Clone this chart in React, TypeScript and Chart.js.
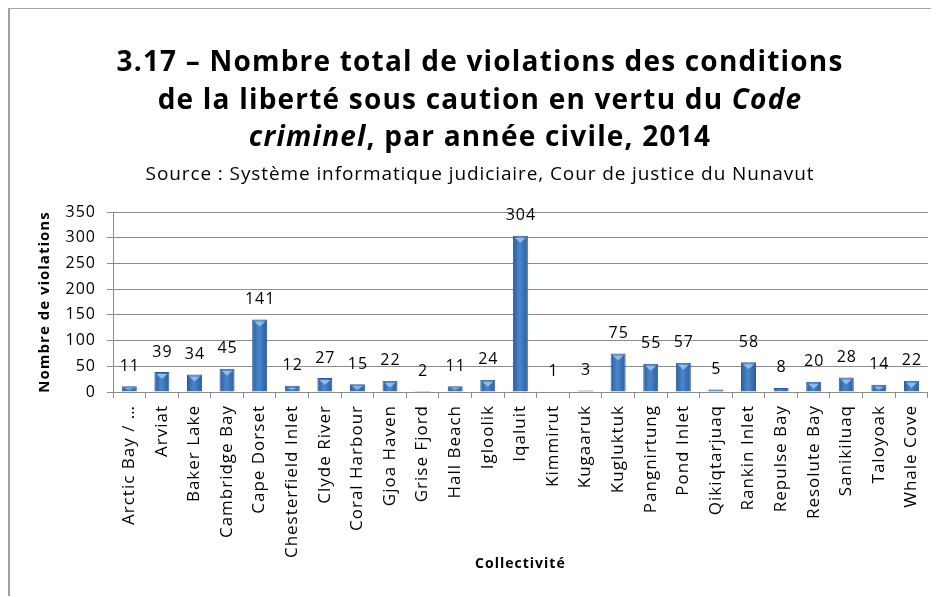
import React, { useEffect, useRef } from 'react';
import { Chart, registerables } from 'chart.js';

Chart.register(...registerables);

const categories = [
  'Arctic Bay / …', 'Arviat', 'Baker Lake', 'Cambridge Bay', 'Cape Dorset',
  'Chesterfield Inlet', 'Clyde River', 'Coral Harbour', 'Gjoa Haven', 'Grise Fjord',
  'Hall Beach', 'Igloolik', 'Iqaluit', 'Kimmirut', 'Kugaaruk', 'Kugluktuk',
  'Pangnirtung', 'Pond Inlet', 'Qikiqtarjuaq', 'Rankin Inlet', 'Repulse Bay',
  'Resolute Bay', 'Sanikiluaq', 'Taloyoak', 'Whale Cove',
];
const violations = [11, 39, 34, 45, 141, 12, 27, 15, 22, 2, 11, 24, 304, 1, 3, 75, 55, 57, 5, 58, 8, 20, 28, 14, 22];
const yMin = 0;
const yMax = 350;
const yStep = 50;
const sourceText = 'Source : Système informatique judiciaire, Cour de justice du Nunavut';
const yTitle = 'Nombre de violations';
const xTitle = 'Collectivité';

const FONT = '"Open Sans", Lato, sans-serif';

const spacingPlugin = {
  id: 'letterSpacing',
  beforeDraw(chart: any) {
    chart.ctx.letterSpacing = '1px';
  },
};

const labelPlugin = {
  id: 'valueLabels',
  afterDatasetsDraw(chart: any) {
    const ctx = chart.ctx;
    const meta = chart.getDatasetMeta(0);
    ctx.save();
    meta.data.forEach((bar: any, i: number) => {
      const v = chart.data.datasets[0].data[i];
      const h = bar.base - bar.y;
      const w = bar.width;
      if (h > 5) {
        ctx.fillStyle = 'rgba(150,195,240,0.9)';
        ctx.beginPath();
        ctx.moveTo(bar.x - w / 2 + 2, bar.y + 2);
        ctx.lineTo(bar.x + w / 2 - 2, bar.y + 2);
        ctx.lineTo(bar.x, bar.y + Math.min(7, h - 2));
        ctx.closePath();
        ctx.fill();
      }
      ctx.fillStyle = '#000';
      ctx.font = `16px ${FONT}`;
      ctx.textAlign = 'center';
      ctx.textBaseline = 'middle';
      ctx.fillText(String(v), bar.x + 0.5, bar.y - 20);
    });
    ctx.restore();
  },
};

export default function App() {
  const ref = useRef<HTMLCanvasElement>(null);
  useEffect(() => {
    if (!ref.current) return;
    const chart = new Chart(ref.current, {
      type: 'bar',
      data: {
        labels: categories,
        datasets: [
          {
            data: violations,
            backgroundColor: (c: any) => {
              const ch = c.chart;
              const xs = ch.scales && ch.scales.x;
              if (!xs || c.type !== 'data' || !ch.chartArea) return '#3a72b8';
              const cx = xs.getPixelForValue(c.dataIndex);
              const g = ch.ctx.createLinearGradient(cx - 8, 0, cx + 8, 0);
              g.addColorStop(0, '#2a5a98');
              g.addColorStop(0.45, '#4a86cc');
              g.addColorStop(1, '#2a5a98');
              return g;
            },
            borderColor: '#2b5b99',
            borderWidth: 1,
            barPercentage: 0.46,
            categoryPercentage: 1,
          },
        ],
      },
      options: {
        animation: false,
        responsive: false,
        layout: { padding: { left: 24, right: 7, top: 205, bottom: 20 } },
        plugins: { legend: { display: false }, tooltip: { enabled: false } },
        scales: {
          x: {
            afterFit: (s: any) => { s.height = 184; },
            grid: { drawOnChartArea: false, color: '#8c8c8c', tickLength: 6, offset: true },
            border: { color: '#8c8c8c' },
            ticks: {
              minRotation: 90, maxRotation: 90, autoSkip: false, padding: 7,
              color: '#000', font: { family: FONT, size: 17 },
            },
            title: { display: true, text: xTitle, color: '#000', font: { family: FONT, size: 14, weight: 'bold' } },
          },
          y: {
            min: yMin, max: yMax,
            afterFit: (s: any) => { s.width = 81; },
            grid: { color: '#8c8c8c', tickLength: 6 },
            border: { color: '#8c8c8c' },
            ticks: { stepSize: yStep, padding: 11, color: '#000', font: { family: FONT, size: 16 } },
            title: { display: true, text: yTitle, color: '#000', font: { family: FONT, size: 15, weight: 'bold' } },
          },
        },
      },
      plugins: [spacingPlugin, labelPlugin],
    });
    return () => chart.destroy();
  }, []);

  return (
    <div style={{ position: 'relative', width: 931, height: 589, marginTop: -1, overflow: 'hidden', fontFamily: FONT }}>
      <canvas ref={ref} width={931} height={589} style={{ position: 'absolute', left: 0, top: 0 }} />
      <div style={{ position: 'absolute', left: 0, top: 0, width: 2, height: 589, background: '#a0a0a0' }} />
      <div style={{ position: 'absolute', left: 0, top: 0, width: 931, height: 2, background: '#a5a5a5' }} />
      <div
        style={{
          position: 'absolute', left: 22, top: 35, width: 900, textAlign: 'center',
          fontSize: 28, fontWeight: 'bold', lineHeight: '37.5px', letterSpacing: '1.2px', color: '#000',
        }}
      >
        3.17 – Nombre total de violations des conditions
        <br />
        de la liberté sous caution en vertu du <i>Code</i>
        <br />
        <i>criminel</i>, par année civile, 2014
      </div>
      <div
        style={{
          position: 'absolute', left: 22, top: 155, width: 900, textAlign: 'center',
          fontSize: 19, lineHeight: '22px', letterSpacing: '0.9px', color: '#000',
        }}
      >
        {sourceText}
      </div>
    </div>
  );
}
